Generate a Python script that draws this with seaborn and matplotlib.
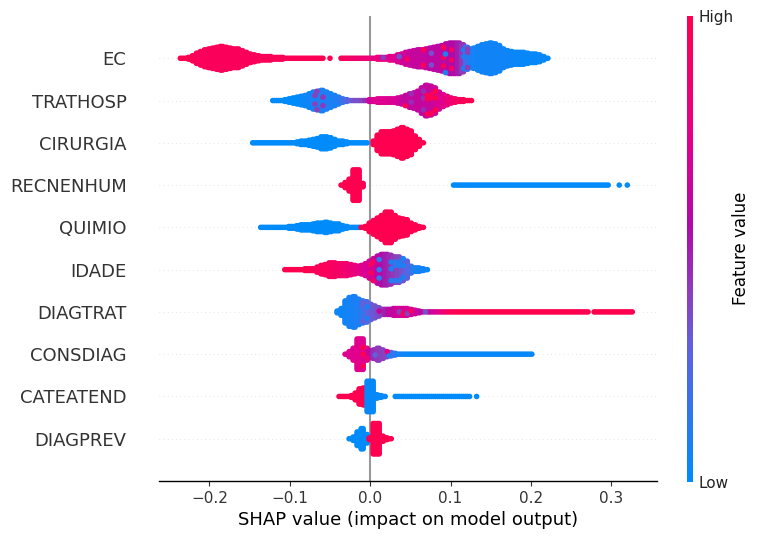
import numpy as np
import pandas as pd
import seaborn as sns
import matplotlib
matplotlib.use("Agg")
import matplotlib.pyplot as plt
from matplotlib.colors import LinearSegmentedColormap, Normalize
from matplotlib.cm import ScalarMappable

features = ["EC", "TRATHOSP", "CIRURGIA", "RECNENHUM", "QUIMIO",
            "IDADE", "DIAGTRAT", "CONSDIAG", "CATEATEND", "DIAGPREV"]
bin_width = 0.005

# First bin centre of each feature, on the SHAP axis
first_bin = [-0.235, -0.12, -0.145, -0.035, -0.135, -0.105, -0.04, -0.03, -0.0375, -0.025]

# Number of samples falling in each SHAP bin
ec_counts = [1, 1, 2, 4, 7, 9, 11, 12, 13, 14, 15, 14, 13, 12, 12, 10, 8, 6, 5, 4, 3, 3, 3, 2, 2,
             2, 1, 1, 1, 1, 1, 1, 1, 1, 1, 1, 0, 1, 0, 0, 1, 1, 1, 1, 1, 1, 1, 1, 1, 2,
             2, 2, 3, 3, 5, 6, 8, 9, 10, 11, 11, 12, 13, 14, 15, 16, 18, 19, 19, 19, 17, 14, 12,
             13, 15, 17, 18, 19, 18, 16, 12, 10, 9, 8, 8, 8, 7, 6, 6, 5, 3, 1]
trathosp_counts = [1, 1, 1, 2, 3, 4, 5, 6, 7, 9, 11, 12, 13, 11, 9, 7, 5, 3, 2, 1, 1, 1, 1, 1, 2,
                   2, 3, 3, 3, 3, 3, 4, 5, 7, 9, 10, 12, 16, 19, 18, 16, 11, 8, 6, 4, 3, 2, 2, 1, 1]
cirurgia_counts = [1, 1, 1, 1, 1, 1, 1, 1, 1, 1, 1, 2, 3, 3, 4, 5, 6, 8, 8, 7, 5, 3, 3, 2, 1, 1, 1, 1, 1,
                   0, 3, 10, 14, 14, 14, 15, 17, 19, 17, 15, 9, 5, 1]
recnenhum_counts = [1, 4, 8, 19, 19, 3, 0, 0, 0, 0, 0, 0, 0, 0, 0, 0, 0, 0, 0, 0, 0, 0, 0, 0, 0, 0, 0, 0,
                    1, 1, 1, 1, 1, 1, 1, 1, 1, 1, 1, 1, 1, 1, 1, 1, 1, 1, 1, 1, 1, 1,
                    1, 1, 1, 1, 1, 1, 1, 1, 1, 1, 1, 1, 1, 1, 1, 1, 1, 0, 0, 1, 0, 1]
quimio_counts = [1, 1, 1, 1, 1, 1, 1, 2, 2, 3, 4, 4, 4, 5, 6, 6, 7, 6, 5, 5, 3, 2, 1, 1, 1,
                 1, 2, 6, 9, 12, 15, 19, 19, 15, 12, 11, 10, 6, 4, 2, 1]
idade_counts = [1, 1, 1, 1, 1, 2, 2, 2, 4, 6, 7, 9, 9, 8, 8, 8, 7, 6, 5, 6, 8, 11, 14, 17, 19, 19,
                18, 16, 16, 14, 11, 5, 3, 3, 2, 1]
diagtrat_counts = [2, 5, 14, 18, 19, 16, 14, 13, 10, 8, 6, 4, 4, 4, 5, 5, 5, 5, 4, 3, 2, 1, 1, 1, 1, 1, 1, 1,
                   1, 1, 1, 1, 1, 1, 1, 1, 1, 1, 1, 1, 1, 1, 1, 1, 1, 1, 1, 1, 1, 1, 1, 1, 1, 1, 1, 1, 1, 1,
                   1, 1, 1, 1, 1, 0, 1, 1, 1, 1, 1, 1, 1, 1, 1, 1]
consdiag_counts = [1, 4, 8, 19, 19, 8, 5, 6, 8, 6, 4, 3, 2, 1, 1, 1, 1, 1, 1, 1, 1, 1, 1, 1, 1, 1, 1,
                   1, 1, 1, 1, 1, 1, 1, 1, 1, 1, 1, 1, 1, 1, 1, 1, 1, 1, 1, 1]
cateatend_counts = [1, 1, 1, 2, 5, 10, 11, 19, 19, 3, 2, 1, 0, 0,
                    1, 1, 1, 1, 1, 1, 1, 1, 1, 1, 1, 1, 1, 1, 1, 1, 1, 1, 1, 0, 1]
diagprev_counts = [1, 3, 9, 13, 6, 2, 19, 19, 4, 2, 1]

# Typical feature value of the samples in each bin (0 = low, 1 = high)
ec_values = [1.0, 1.0, 1.0, 0.98, 0.96, 0.96, 0.95, 0.95, 0.95, 0.95, 0.95, 0.95, 0.95, 0.96, 0.96, 0.96, 0.96, 0.96, 0.96, 0.96, 0.97, 0.97, 0.97, 0.97, 0.97,
             0.97, 0.97, 0.97, 0.98, 0.98, 0.98, 0.98, 0.98, 0.98, 0.98, 1.0, 1.0, 1.0, 1.0, 1.0, 0.95, 0.95, 0.9, 0.88, 0.86, 0.85, 0.85, 0.82, 0.8, 0.8,
             0.78, 0.76, 0.74, 0.72, 0.7, 0.68, 0.66, 0.64, 0.62, 0.62, 0.62, 0.62, 0.6, 0.6, 0.6, 0.58, 0.58, 0.56, 0.55, 0.5, 0.42, 0.2, 0.08,
             0.06, 0.05, 0.05, 0.05, 0.05, 0.05, 0.05, 0.05, 0.04, 0.04, 0.03, 0.03, 0.03, 0.02, 0.02, 0.02, 0.02, 0.02, 0.02]
trathosp_values = [0.0, 0.0, 0.0, 0.0, 0.0, 0.0, 0.0, 0.02, 0.02, 0.05, 0.06, 0.08, 0.08, 0.08, 0.08, 0.08, 0.1, 0.15, 0.22, 0.3, 0.35, 0.35, 0.38, 0.45, 0.65,
                   0.72, 0.72, 0.72, 0.72, 0.7, 0.7, 0.68, 0.62, 0.6, 0.62, 0.62, 0.62, 0.62, 0.62, 0.62, 0.64, 0.68, 0.72, 0.78, 0.84, 0.9, 0.94, 0.96, 1.0, 1.0]
cirurgia_values = [0.0] * 29 + [1.0] * 14
recnenhum_values = [1.0] * 28 + [0.0] * 44
quimio_values = [0.0] * 25 + [1.0] * 16
idade_values = [1.0, 1.0, 1.0, 1.0, 1.0, 1.0, 1.0, 0.98, 0.96, 0.96, 0.95, 0.95, 0.92, 0.92, 0.9, 0.88, 0.85, 0.82, 0.78, 0.74, 0.7, 0.68, 0.66, 0.6, 0.55, 0.5,
                0.46, 0.42, 0.38, 0.34, 0.3, 0.2, 0.1, 0.06, 0.05, 0.05]
diagtrat_values = [0.04, 0.04, 0.05, 0.06, 0.07, 0.08, 0.12, 0.2, 0.3, 0.32, 0.35, 0.4, 0.5, 0.6, 0.62, 0.66, 0.68, 0.68, 0.7, 0.66, 0.62, 0.6, 0.6, 0.62, 0.66, 0.72, 0.8, 0.88,
                   0.95, 0.98, 1.0, 1.0, 1.0, 1.0, 1.0, 1.0, 1.0, 1.0, 1.0, 1.0, 1.0, 1.0, 1.0, 1.0, 1.0, 1.0, 1.0, 1.0, 1.0, 1.0, 1.0, 1.0, 1.0, 1.0, 1.0, 1.0, 1.0, 1.0,
                   1.0, 1.0, 1.0, 1.0, 1.0, 1.0, 1.0, 1.0, 1.0, 1.0, 1.0, 1.0, 1.0, 1.0, 1.0, 1.0]
consdiag_values = [0.72, 0.72, 0.72, 0.74, 0.72, 0.7, 0.6, 0.45, 0.42, 0.4, 0.38, 0.3, 0.14, 0.08, 0.05, 0.03, 0.02, 0.02, 0.02, 0.02, 0.02, 0.02, 0.02, 0.02, 0.02, 0.02, 0.02,
                   0.02, 0.02, 0.02, 0.02, 0.02, 0.02, 0.02, 0.02, 0.02, 0.02, 0.02, 0.02, 0.02, 0.02, 0.02, 0.02, 0.02, 0.02, 0.02, 0.02]
cateatend_values = [1.0, 1.0, 1.0, 1.0, 1.0, 1.0, 1.0, 0.02, 0.02, 0.02, 0.02, 0.02, 0.02, 0.02,
                    0.0, 0.0, 0.0, 0.0, 0.0, 0.0, 0.0, 0.0, 0.0, 0.0, 0.0, 0.0, 0.0, 0.0, 0.0, 0.0, 0.0, 0.0, 0.0, 0.0, 0.0]
diagprev_values = [0.0, 0.0, 0.0, 0.0, 0.0, 1.0, 1.0, 1.0, 1.0, 1.0, 1.0]

# Minority feature value mixed into each bin, where high and low samples overlap
ec_accents = {45: 1.0, 50: 0.4, 54: 0.35, 56: 0.9, 58: 0.3, 60: 0.95, 62: 0.35, 63: 0.95, 64: 0.25, 65: 0.95,
              66: 0.1, 67: 0.9, 68: 0.05, 69: 0.95, 70: 0.08, 71: 0.4}
trathosp_accents = {9: 0.35, 10: 0.4, 11: 0.4, 12: 0.42, 13: 0.4, 14: 0.4,
                    33: 0.95, 34: 0.45, 35: 1.0, 36: 1.0, 37: 0.45, 38: 1.0, 39: 0.95, 40: 1.0}
idade_accents = {23: 0.15, 24: 0.2, 25: 0.12, 26: 0.08, 27: 0.15, 28: 0.1, 29: 0.08, 30: 0.12, 22: 0.9, 21: 0.95}
diagtrat_accents = {6: 0.3, 7: 0.08, 8: 0.1, 9: 0.55, 10: 0.6, 14: 0.85, 15: 0.4, 16: 0.95, 17: 0.4, 18: 0.9,
                    20: 0.4, 22: 0.35, 24: 0.45, 26: 0.5}
consdiag_accents = {3: 1.0, 4: 1.0, 5: 0.85, 7: 0.3, 8: 0.3, 10: 0.75, 11: 0.1}
value_accents = [ec_accents, trathosp_accents, {}, {}, {}, idade_accents, diagtrat_accents, consdiag_accents, {}, {}]

all_counts = [ec_counts, trathosp_counts, cirurgia_counts, recnenhum_counts, quimio_counts,
              idade_counts, diagtrat_counts, consdiag_counts, cateatend_counts, diagprev_counts]
all_values = [ec_values, trathosp_values, cirurgia_values, recnenhum_values, quimio_values,
              idade_values, diagtrat_values, consdiag_values, cateatend_values, diagprev_values]

STACK_STEP = 0.04  # vertical gap between samples stacked in one bin, in row units

# Stack the samples of every bin around their feature row, split over the bin's width
records = []
for row, (start, counts, values, accents) in enumerate(zip(first_bin, all_counts, all_values, value_accents)):
    base = len(features) - 1 - row
    plain, mixed = [], []
    for i, (n, v) in enumerate(zip(counts, values)):
        shap_value = start + i * bin_width
        before = counts[i - 1] if i > 0 else 0
        after = counts[i + 1] if i + 1 < len(counts) else 0
        isolated = before == 0 and after == 0
        shifts = [0.0] if isolated else [-0.25, 0.25]
        for s, shift in enumerate(shifts):
            for k in range(n):
                point = (shap_value + shift * bin_width, base + (k - (n - 1) / 2) * STACK_STEP)
                if i in accents and (i * i + 3 * k * k + 5 * s) % 11 == 0:
                    mixed.append(point + (accents[i],))
                else:
                    plain.append(point + (v,))
    records.extend(plain + mixed)
swarm = pd.DataFrame(records, columns=["shap", "row", "feature_value"])

red_blue = LinearSegmentedColormap.from_list(
    "red_blue",
    [(0.0, "#008bfb"), (0.285, "#5f62e0"), (0.4, "#8c3fbb"),
     (0.55, "#b00aa8"), (0.72, "#e0008f"), (1.0, "#ff0051")])
value_norm = Normalize(0, 1)

sns.set_theme(style="white")
plt.rcParams["font.family"] = ["DejaVu Sans"]

fig = plt.figure(figsize=(7.6, 5.4), dpi=100)
ax = fig.add_axes([159 / 760, 59 / 540, 498 / 760, 465 / 540])

for y in range(len(features)):
    ax.axhline(y, color="#cccccc", lw=0.5, dashes=(1, 5), zorder=-1)
ax.axvline(0, color="#999999", lw=1.5, zorder=-1)

sns.scatterplot(data=swarm, x="shap", y="row", hue="feature_value", palette=red_blue,
                hue_norm=value_norm, s=16, linewidth=0, legend=False, ax=ax, zorder=3)

ax.set_xlim(-0.2628, 0.357)
ax.set_ylim(-1, len(features))
ax.set_yticks(range(len(features)))
ax.set_yticklabels(features[::-1], fontsize=13, color="#333333")
ax.set_xticks([-0.2, -0.1, 0.0, 0.1, 0.2, 0.3])
ax.tick_params(axis="x", labelsize=11, labelcolor="#333333", color="#333333",
               length=3.5, width=0.8, bottom=True)
ax.tick_params(axis="y", length=0, pad=23.4)
ax.set_ylabel("")
ax.set_xlabel("SHAP value (impact on model output)", fontsize=13, color="black", labelpad=4)
sns.despine(ax=ax, left=True, top=True, right=True)
ax.spines["bottom"].set_color("black")
ax.spines["bottom"].set_linewidth(1.0)

# Colour scale for the feature value
cax = fig.add_axes([687 / 760, 58.5 / 540, 6 / 760, 465.5 / 540])
cbar = fig.colorbar(ScalarMappable(norm=value_norm, cmap=red_blue), cax=cax)
cbar.set_ticks([0, 1])
cbar.set_ticklabels(["Low", "High"])
cbar.ax.tick_params(labelsize=11, length=0, pad=4, labelcolor="#222222")
cbar.outline.set_visible(False)
cbar.set_label("Feature value", fontsize=12, labelpad=-1, color="black")

fig.savefig("out.png", dpi=100)
